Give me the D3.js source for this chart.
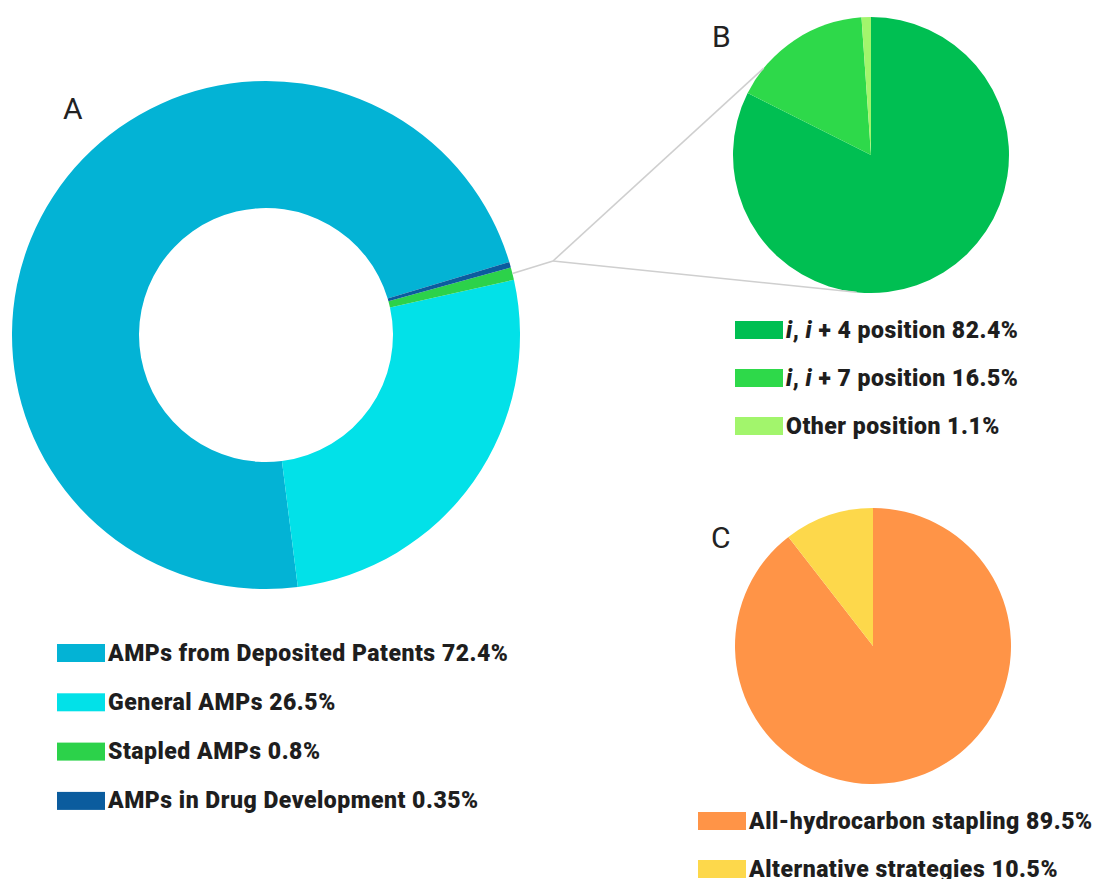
<!DOCTYPE html>
<html>
<head>
<meta charset="utf-8">
<script src="https://cdn.jsdelivr.net/npm/d3@7"></script>
<style>
html,body{margin:0;padding:0;background:#fff;}
svg{display:block;}
text{font-family:Roboto,"Open Sans",sans-serif;}
</style>
</head>
<body>
<svg id="chart" width="1095" height="879"></svg>
<script>
// ---- Data ----
const catA = ["AMPs from Deposited Patents", "General AMPs", "Stapled AMPs", "AMPs in Drug Development"];
const valA = [72.4, 26.5, 0.8, 0.35];
const labelA = ["72.4%", "26.5%", "0.8%", "0.35%"];
const colA = ["#03b3d5", "#02e1e8", "#2cd24a", "#0b5c9e"];
const drawOrderA = ["AMPs from Deposited Patents", "AMPs in Drug Development", "Stapled AMPs", "General AMPs"];

const catB = ["i, i + 4 position", "i, i + 7 position", "Other position"];
const valB = [82.4, 16.5, 1.1];
const labelB = ["82.4%", "16.5%", "1.1%"];
const colB = ["#00bf52", "#2ed94a", "#a2f56c"];

const catC = ["All-hydrocarbon stapling", "Alternative strategies"];
const valC = [89.5, 10.5];
const labelC = ["89.5%", "10.5%"];
const colC = ["#ff9447", "#fdd84b"];

// ---- Drawing ----
const svg = d3.select("#chart");
const rad = d => d * Math.PI / 180;

// Panel A donut
const A = {cx: 266, cy: 335, R: 254, r: 127, start: 172.8};
const dataA = catA.map((c, i) => ({name: c, value: valA[i], color: colA[i]}));
const pieA = d3.pie().value(d => d.value)
  .sort((a, b) => drawOrderA.indexOf(a.name) - drawOrderA.indexOf(b.name))
  .startAngle(rad(A.start)).endAngle(rad(A.start) + 2 * Math.PI);
const arcA = d3.arc().innerRadius(A.r).outerRadius(A.R);
const arcsA = pieA(dataA);
const gA = svg.append("g").attr("transform", `translate(${A.cx},${A.cy})`);
gA.selectAll("path").data(arcsA).join("path")
  .attr("d", arcA).attr("fill", d => d.data.color);

// Panel B pie
const B = {cx: 871, cy: 155, R: 138};
const dataB = catB.map((c, i) => ({name: c, value: valB[i], color: colB[i]}));
const pieB = d3.pie().value(d => d.value).sort(null);
const arcB = d3.arc().innerRadius(0).outerRadius(B.R);
const gB = svg.append("g").attr("transform", `translate(${B.cx},${B.cy})`);
gB.selectAll("path").data(pieB(dataB)).join("path")
  .attr("d", arcB).attr("fill", d => d.data.color);

// Panel C pie
const C = {cx: 873, cy: 646, R: 138};
const dataC = catC.map((c, i) => ({name: c, value: valC[i], color: colC[i]}));
const pieC = d3.pie().value(d => d.value).sort(null);
const arcC = d3.arc().innerRadius(0).outerRadius(C.R);
const gC = svg.append("g").attr("transform", `translate(${C.cx},${C.cy})`);
gC.selectAll("path").data(pieC(dataC)).join("path")
  .attr("d", arcC).attr("fill", d => d.data.color);

// Connector from the Stapled slice of A to pie B
const stapled = arcsA.find(d => d.data.name === "Stapled AMPs");
const midA = (stapled.startAngle + stapled.endAngle) / 2;
const p0 = [A.cx + A.R * Math.sin(midA), A.cy - A.R * Math.cos(midA)];
const junction = [553, 261];
const onB = a => [B.cx + B.R * Math.sin(rad(a)), B.cy - B.R * Math.cos(rad(a))];
const pUp = onB(-51), pDown = onB(186);
const line = d3.line();
const conn = svg.append("g").attr("fill", "none").attr("stroke", "#cfcfcf").attr("stroke-width", 1.6);
conn.append("path").attr("d", line([p0, junction]));
conn.append("path").attr("d", line([junction, pUp]));
conn.append("path").attr("d", line([junction, pDown]));

// Panel letters
const letters = [["A", 63, 119], ["B", 712, 47], ["C", 711, 548]];
svg.selectAll("text.panel").data(letters).join("text")
  .attr("class", "panel").attr("x", d => d[1]).attr("y", d => d[2])
  .attr("font-size", 30).attr("fill", "#222").text(d => d[0]);

// Legends
function legend(x, y0, step, cats, labels, cols, italicI) {
  const g = svg.append("g");
  cats.forEach((c, i) => {
    const y = y0 + i * step;
    g.append("rect").attr("x", x).attr("y", y).attr("width", 48).attr("height", 18).attr("fill", cols[i]);
    const t = g.append("text").attr("x", x + 51).attr("y", y + 16.5)
      .attr("font-size", 23).attr("font-weight", 900).attr("letter-spacing", 0.5).attr("fill", "#1e1e1e");
    if (italicI && c.startsWith("i, i")) {
      t.append("tspan").attr("font-style", "italic").text("i");
      t.append("tspan").text(", ");
      t.append("tspan").attr("font-style", "italic").text("i");
      t.append("tspan").text(c.slice(4) + " " + labels[i]);
    } else {
      t.text(c + " " + labels[i]);
    }
  });
}
legend(57, 644, 49.3, catA, labelA, colA, false);
legend(735, 321, 48, catB, labelB, colB, true);
legend(698, 812, 48, catC, labelC, colC, false);
</script>
</body>
</html>
